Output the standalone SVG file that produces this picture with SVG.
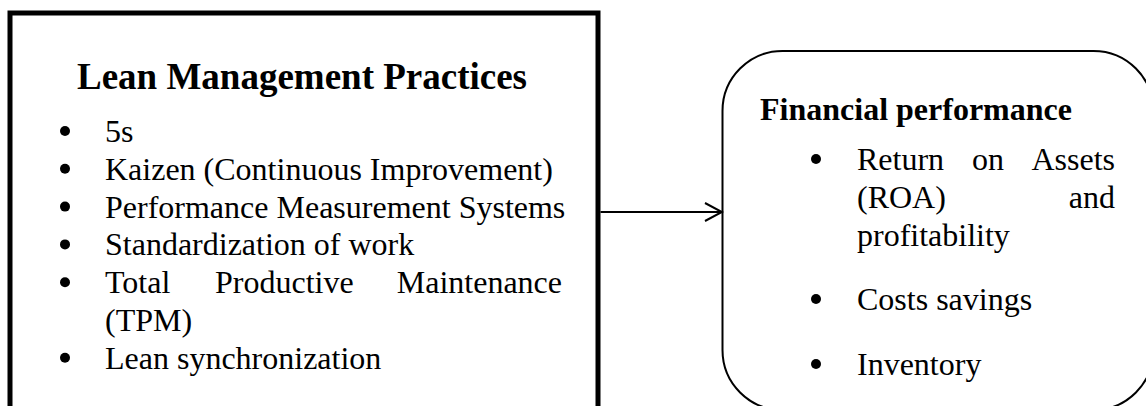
<svg xmlns="http://www.w3.org/2000/svg" width="1146" height="406" viewBox="0 0 1146 406">
  <defs>
    <style>
      .txt { font-family: "Liberation Serif", "Times New Roman", serif; font-size: 32px; fill: #000; }
      .bold { font-weight: bold; }
      .title { font-size: 37px; }
      .dot { fill: #000; }
      .conn { stroke: #000; stroke-width: 2; fill: none; }
    </style>
    <marker id="open-arrow" markerWidth="20" markerHeight="22" refX="18" refY="10" orient="auto" markerUnits="userSpaceOnUse">
      <path d="M1,1 L18,10 L1,19" fill="none" stroke="#000" stroke-width="2"/>
    </marker>
  </defs>
  <rect width="1146" height="406" fill="#fff"/>

  <!-- Practices box (runs past the bottom edge) -->
  <g id="lean-practices">
    <rect x="10" y="13" width="588" height="430" fill="#fff" stroke="#000" stroke-width="5"/>
    <text class="txt bold title" x="302" y="89" text-anchor="middle">Lean Management Practices</text>
    <circle class="dot" cx="65" cy="131" r="5"/>
    <text class="txt" x="105" y="142">5s</text>
    <circle class="dot" cx="65" cy="168.8" r="5"/>
    <text class="txt" x="105" y="179.8">Kaizen (Continuous Improvement)</text>
    <circle class="dot" cx="65" cy="206.6" r="5"/>
    <text class="txt" x="105" y="217.6">Performance Measurement Systems</text>
    <circle class="dot" cx="65" cy="244.4" r="5"/>
    <text class="txt" x="105" y="255.4">Standardization of work</text>
    <circle class="dot" cx="65" cy="282.2" r="5"/>
    <text class="txt" x="105" y="293.2">Total</text>
    <text class="txt" x="215" y="293.2">Productive</text>
    <text class="txt" x="562" y="293.2" text-anchor="end">Maintenance</text>
    <text class="txt" x="105" y="331">(TPM)</text>
    <circle class="dot" cx="65" cy="357.8" r="5"/>
    <text class="txt" x="105" y="368.8">Lean synchronization</text>
  </g>

  <!-- Outcome box (rounded, runs past the right and bottom edges) -->
  <g id="financial-performance">
    <rect x="722.5" y="51" width="431" height="359" rx="60" ry="60" fill="#fff" stroke="#000" stroke-width="2"/>
    <text class="txt bold" x="760" y="120">Financial performance</text>
    <circle class="dot" cx="816" cy="159" r="5"/>
    <text class="txt" x="857" y="170">Return</text>
    <text class="txt" x="972" y="170">on</text>
    <text class="txt" x="1115" y="170" text-anchor="end">Assets</text>
    <text class="txt" x="857" y="208">(ROA)</text>
    <text class="txt" x="1115" y="208" text-anchor="end">and</text>
    <text class="txt" x="857" y="246">profitability</text>
    <circle class="dot" cx="816" cy="299" r="5"/>
    <text class="txt" x="857" y="310">Costs savings</text>
    <circle class="dot" cx="816" cy="364" r="5"/>
    <text class="txt" x="857" y="375">Inventory</text>
  </g>

  <!-- Connectors -->
  <g id="connectors">
    <line class="conn" x1="600.5" y1="212" x2="722" y2="212" marker-end="url(#open-arrow)"/>
  </g>
</svg>
